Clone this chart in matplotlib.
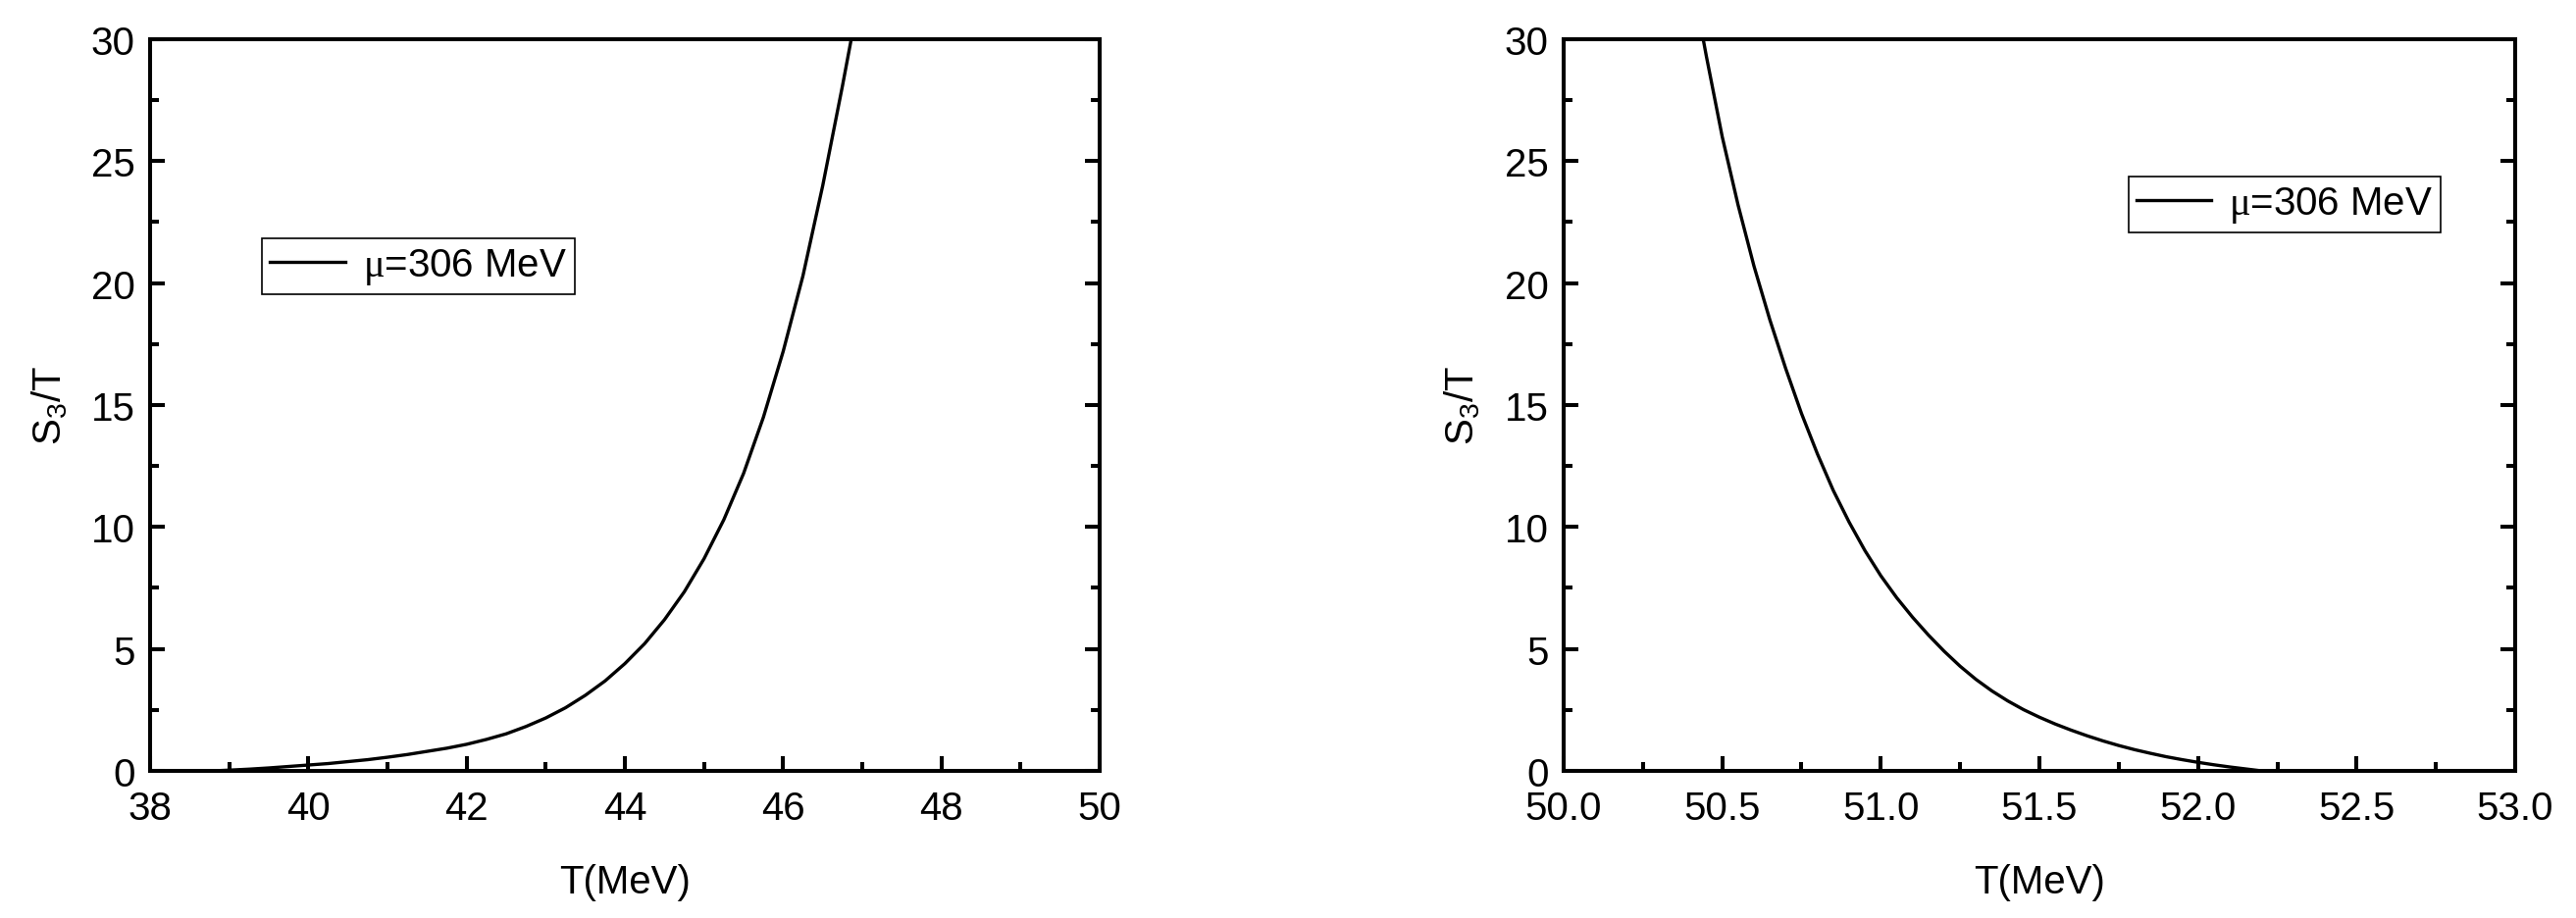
import matplotlib
matplotlib.use('Agg')
import matplotlib.pyplot as plt
from matplotlib.ticker import MultipleLocator, FormatStrFormatter

plt.rcParams['font.family'] = ['Liberation Sans', 'DejaVu Sans']
plt.rcParams['mathtext.fontset'] = 'custom'
plt.rcParams['mathtext.rm'] = 'Liberation Sans'
plt.rcParams['mathtext.it'] = 'Liberation Sans:italic'
plt.rcParams['mathtext.tt'] = 'Liberation Serif'

# left panel: S3/T rising with T
t_left = [38.8, 39.0, 39.25, 39.5, 39.75, 40.0, 40.25, 40.5, 40.75, 41.0,
          41.25, 41.5, 41.75, 42.0, 42.25, 42.5, 42.75, 43.0, 43.25, 43.5,
          43.75, 44.0, 44.25, 44.5, 44.75, 45.0, 45.25, 45.5, 45.75, 46.0,
          46.25, 46.5, 46.75, 46.86]
s_left = [0.0, 0.03, 0.07, 0.12, 0.18, 0.24, 0.30, 0.38, 0.46, 0.56,
          0.67, 0.80, 0.93, 1.09, 1.29, 1.52, 1.82, 2.17, 2.59, 3.1,
          3.69, 4.4, 5.22, 6.2, 7.34, 8.7, 10.3, 12.2, 14.5, 17.2,
          20.3, 24.0, 28.1, 30.0]

# right panel: S3/T falling with T
t_right = [50.44, 50.45, 50.5, 50.55, 50.6, 50.65, 50.7, 50.75, 50.8, 50.85,
           50.9, 50.95, 51.0, 51.05, 51.1, 51.15, 51.2, 51.25, 51.3, 51.35,
           51.4, 51.45, 51.5, 51.55, 51.6, 51.65, 51.7, 51.75, 51.8, 51.85,
           51.9, 51.95, 52.0, 52.05, 52.1, 52.15, 52.2]
s_right = [30.0, 29.3, 26.0, 23.2, 20.7, 18.5, 16.5, 14.65, 13.0, 11.5,
           10.2, 9.03, 8.0, 7.1, 6.3, 5.57, 4.9, 4.29, 3.75, 3.28,
           2.87, 2.51, 2.2, 1.92, 1.67, 1.44, 1.23, 1.04, 0.87, 0.72,
           0.58, 0.46, 0.35, 0.25, 0.16, 0.08, 0.0]

label = r'$\mathtt{\mu}$=306 MeV'
fs = 29

fig = plt.figure(figsize=(26.26, 9.37), dpi=100)
ax1 = fig.add_axes([0.0583, 0.1601, 0.3686, 0.7962])
ax2 = fig.add_axes([0.6070, 0.1601, 0.3694, 0.7962])

def style(ax, xlim, xmaj, xmin):
  ax.set_xlim(*xlim)
  ax.set_ylim(0, 30)
  ax.xaxis.set_major_locator(MultipleLocator(xmaj))
  ax.xaxis.set_minor_locator(MultipleLocator(xmin))
  ax.yaxis.set_major_locator(MultipleLocator(5))
  ax.yaxis.set_minor_locator(MultipleLocator(2.5))
  for s in ax.spines.values():
    s.set_linewidth(2.9)
  ax.tick_params(which='both', direction='in', top=False, right=True,
                 width=2.9, labelsize=fs)
  ax.tick_params(which='major', length=10.8)
  ax.tick_params(which='minor', length=6.5)
  ax.tick_params(axis='x', pad=14)
  ax.tick_params(axis='y', pad=11)
  ax.set_xlabel('T(MeV)', fontsize=fs, labelpad=26)
  ax.set_ylabel(r'S$_{\mathrm{3}}$/T', fontsize=fs, labelpad=16)

def add_legend(ax, loc, anchor):
  leg = ax.legend(loc=loc, bbox_to_anchor=anchor, fontsize=fs,
                  fancybox=False, framealpha=1, edgecolor='black', borderpad=0.2,
                  handlelength=1.9, handletextpad=0.45, borderaxespad=0)
  leg.get_frame().set_linewidth(1.2)

ax1.plot(t_left, s_left, '-', color='black', lw=2.4, label=label)
style(ax1, (38, 50), 2, 1)
add_legend(ax1, 'upper left', (0.118, 0.728))

ax2.plot(t_right, s_right, '-', color='black', lw=2.4, label=label)
style(ax2, (50, 53), 0.5, 0.25)
ax2.xaxis.set_major_formatter(FormatStrFormatter('%.1f'))
add_legend(ax2, 'upper right', (0.922, 0.812))

plt.savefig('out.png', dpi=100)
